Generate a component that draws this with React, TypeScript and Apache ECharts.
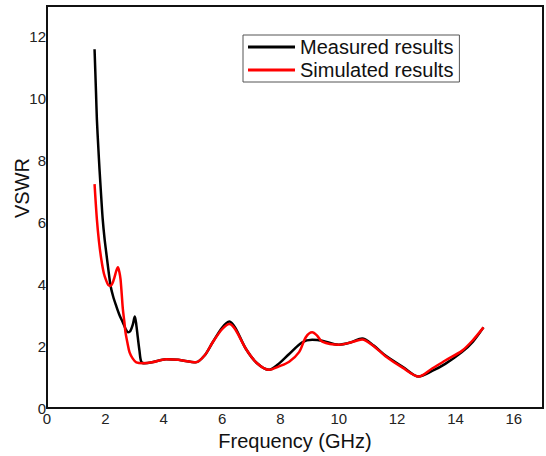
import React, { useEffect, useRef } from "react";
import * as echarts from "echarts";

const measured: [number, number][] = [
  [1.63, 11.6], [1.68, 10.2], [1.71, 9.33], [1.76, 8.4], [1.8, 7.72], [1.86, 6.8],
  [1.91, 6.1], [1.97, 5.5], [2.03, 5.03], [2.1, 4.5], [2.18, 3.95], [2.27, 3.6],
  [2.37, 3.31], [2.48, 3.02], [2.6, 2.77], [2.7, 2.55], [2.78, 2.45], [2.86, 2.5],
  [2.94, 2.7], [3.01, 2.96], [3.06, 2.7], [3.11, 2.3], [3.17, 1.85], [3.23, 1.5],
  [3.35, 1.45], [3.6, 1.48], [4.08, 1.58], [4.5, 1.56], [5.1, 1.48], [5.4, 1.7],
  [5.68, 2.13], [6.0, 2.6], [6.25, 2.8], [6.45, 2.6], [6.82, 1.91], [7.2, 1.45],
  [7.61, 1.24], [7.9, 1.4], [8.3, 1.75], [8.75, 2.13], [9.09, 2.21], [9.43, 2.18],
  [10.0, 2.05], [10.4, 2.12], [10.8, 2.25], [11.2, 2.02], [11.6, 1.7], [12.2, 1.33],
  [12.74, 1.02], [13.2, 1.2], [13.65, 1.43], [14.22, 1.81], [14.6, 2.15], [14.96, 2.61],
];

const simulated: [number, number][] = [
  [1.63, 7.24], [1.71, 6.1], [1.78, 5.4], [1.86, 4.82], [1.95, 4.35], [2.03, 4.12],
  [2.1, 3.98], [2.18, 3.95], [2.25, 4.05], [2.31, 4.22], [2.38, 4.45], [2.43, 4.55],
  [2.48, 4.4], [2.52, 4.17], [2.56, 3.7], [2.6, 3.2], [2.65, 2.8], [2.69, 2.45],
  [2.76, 2.1], [2.83, 1.8], [2.94, 1.6], [3.06, 1.48], [3.28, 1.45], [3.6, 1.48],
  [4.08, 1.58], [4.5, 1.56], [5.1, 1.48], [5.4, 1.7], [5.68, 2.13], [6.0, 2.55],
  [6.25, 2.72], [6.45, 2.55], [6.82, 1.91], [7.2, 1.45], [7.61, 1.24], [7.95, 1.35],
  [8.3, 1.5], [8.64, 1.81], [8.87, 2.29], [9.09, 2.45], [9.25, 2.35], [9.43, 2.15],
  [10.0, 2.05], [10.4, 2.12], [10.8, 2.22], [11.2, 2.0], [11.6, 1.68], [12.2, 1.3],
  [12.74, 1.02], [13.2, 1.28], [13.65, 1.54], [14.22, 1.85], [14.6, 2.2], [14.96, 2.61],
];

const seriesNames = ["Measured results", "Simulated results"];
const xTitle = "Frequency (GHz)";
const yTitle = "VSWR";

const FONT = "'Liberation Sans', Arial, sans-serif";

export default function App() {
  const ref = useRef<HTMLDivElement>(null);
  useEffect(() => {
    document.body.style.margin = "0";
    if (!ref.current) return;
    const chart = echarts.init(ref.current, undefined, { renderer: "svg" });
    chart.setOption({
      animation: false,
      backgroundColor: "#fff",
      textStyle: { fontFamily: FONT },
      grid: {
        left: 47, right: 3, top: 6, bottom: 47,
        show: true, borderColor: "#111", borderWidth: 2, containLabel: false,
      },
      legend: {
        orient: "vertical",
        left: 243,
        top: 35,
        icon: "rect",
        itemWidth: 47,
        itemHeight: 3,
        itemGap: 3,
        padding: [2, 6, 2, 5],
        borderColor: "#555",
        borderWidth: 1,
        textStyle: { fontSize: 20, color: "#111", fontFamily: FONT },
        data: seriesNames,
      },
      xAxis: {
        type: "value",
        min: 0, max: 17, interval: 2,
        name: xTitle,
        nameLocation: "middle",
        nameGap: 22,
        nameTextStyle: { fontSize: 20, color: "#111", fontFamily: FONT },
        axisLine: { show: false },
        axisTick: { show: false },
        splitLine: { show: false },
        axisLabel: { fontSize: 15, color: "#222", margin: 3, fontFamily: FONT,
          showMaxLabel: false },
      },
      yAxis: {
        type: "value",
        min: 0, max: 13, interval: 2,
        axisLine: { show: false },
        axisTick: { show: false },
        splitLine: { show: false },
        axisLabel: { fontSize: 15, color: "#222", margin: 1, fontFamily: FONT,
          showMaxLabel: false },
      },
      graphic: [
        {
          type: "text",
          x: 22,
          y: 188,
          rotation: Math.PI / 2,
          style: {
            text: yTitle,
            fontSize: 20,
            fill: "#111",
            fontFamily: FONT,
            textAlign: "center",
            textVerticalAlign: "middle",
          },
        },
      ],
      series: [
        {
          name: seriesNames[0],
          type: "line",
          data: measured,
          smooth: 0.3,
          symbol: "none",
          lineStyle: { color: "#000", width: 2.5 },
          itemStyle: { color: "#000" },
          z: 2,
        },
        {
          name: seriesNames[1],
          type: "line",
          data: simulated,
          smooth: 0.3,
          symbol: "none",
          lineStyle: { color: "#ff0000", width: 2.5 },
          itemStyle: { color: "#ff0000" },
          z: 3,
        },
      ],
    });
    return () => chart.dispose();
  }, []);
  return <div ref={ref} style={{ width: 546, height: 456 }} />;
}
